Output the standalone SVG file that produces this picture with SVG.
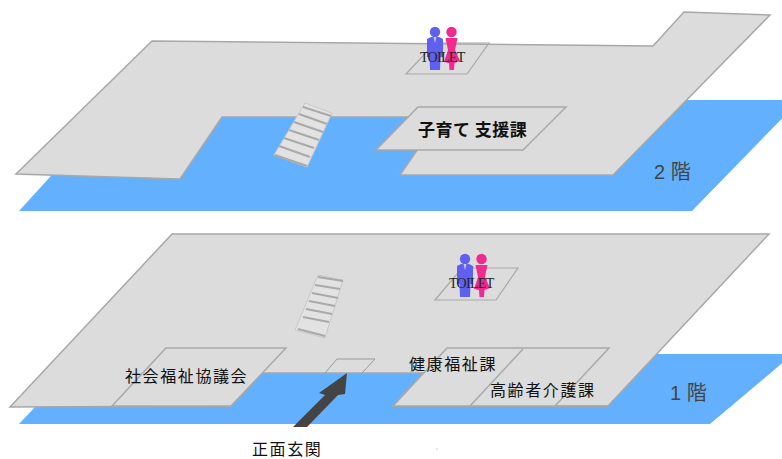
<svg xmlns="http://www.w3.org/2000/svg" width="782" height="459" viewBox="0 0 782 459">
<style>
.floor{fill:#dcdcdc;stroke:#a8a8a8;stroke-width:1.5}
.blue{fill:#63b0ff}
.room{fill:#dcdcdc;stroke:#a8a8a8;stroke-width:1.5}
.div{fill:none;stroke:#a8a8a8;stroke-width:1.5}
.wc{fill:none;stroke:#a8a8a8;stroke-width:1.2}
.jp{font-family:"Noto Sans CJK JP","Liberation Sans",sans-serif;font-size:16px;letter-spacing:1.6px;fill:#111}
.lvl{font-family:"Liberation Sans","Noto Sans CJK JP",sans-serif;font-size:20px;fill:#444}
.t{font-family:"Liberation Serif",serif;font-size:14px;fill:#222;letter-spacing:-0.7px}
.m{fill:#6060f0}.f{fill:#f02a90}
.step{stroke:#a9a9a9;stroke-width:2;fill:none}
.stair{fill:#e2e2e2;stroke:#c8c8c8;stroke-width:1}
</style>
<defs>
<g id="people">
<circle cx="0" cy="0" r="5.2" class="m"/>
<path class="m" d="M-8 7 L-4 5 L4 5 L8 7 L8 25 L5.5 25 L5 38 L-5 38 L-5.5 25 L-8 25Z"/>
<path d="M-1.5 5 L0 11 L1.5 5Z" fill="#c8c8f0"/>
<circle cx="16.5" cy="0" r="5.2" class="f"/>
<path class="f" d="M10.5 6 L22.5 6 L20 18 L25 29 L19.5 31 L19 38 L14.5 38 L14 31 L9 30 L13 18Z"/>
</g>
</defs>
<g id="floor-2">
<polygon class="blue" points="19,211 120,100 800,100 692,211"/>
<polygon class="floor" points="16,174 152,41 653,46 684,12 770,15 613,175 400,175 440,117 222,117 180,179"/>
</g>
<g id="floor-1">
<polygon class="blue" points="19,424 85,354 793,354 710,424"/>
<polygon class="floor" points="10,407 172,234 769,234 608,406 393,406 423,373 262,373 231,406"/>
</g>
<g id="toilet-2">
<polygon class="wc" points="406,74 435,43 489,43 467,74"/>
<use href="#people" x="435" y="32"/>
<text class="t" x="420" y="62">TOILET</text>
</g>
<g id="stairs-2">
<polygon class="stair" points="305,103 332,113 307,167 274,155"/>
<path class="step" d="M303 107 L331 116M299 114 L327 124M294 122 L323 132M289 130 L319 140M284 138 L314 148M279 146 L310 157M275 155 L307 166"/>
</g>
<g id="kosodate">
<polygon class="room" points="376,150 418,107 566,107 523,150"/>
<text class="jp" x="418" y="136" font-weight="700" style="font-size:17px;letter-spacing:.5px">子育て 支援課</text>
</g>
<text class="lvl" x="654" y="179" id="label-2f">2 階</text>
<g id="toilet-1">
<polygon class="wc" points="435,300 462,268 518,268 496,300"/>
<use href="#people" x="465" y="259"/>
<text class="t" x="449" y="288">TOILET</text>
</g>
<g id="stairs-1">
<polygon class="stair" points="318,275 343,280 325,338 295,330"/>
<path class="step" d="M318 277 L343 281M315 285 L340 289M312 293 L338 298M309 301 L335 306M306 309 L332 314M303 317 L329 322M298 329 L325 336"/>
</g>
<g id="shakyo">
<polygon class="room" points="112,406 166,348 286,348 231,406"/>
<text class="jp" x="125" y="382">社会福祉協議会</text>
</g>
<g id="entrance">
<path d="M325 373 L337 359 L375 359 L362 373" fill="none" stroke="#999" stroke-width="1"/>
</g>
<g id="kenko">
<polygon class="room" points="393,406 447,348 609,348 555,406"/>
<path class="div" d="M470 406 L523 349M555 406 L608 406"/>
<text class="jp" x="409" y="370">健康福祉課</text>
</g>
<g id="kaigo">
<text class="jp" x="490" y="396">高齢者介護課</text>
</g>
<g id="connectors">
<polygon points="293,427 307,427 338,395 345,394 347,373 319,393 325,395" fill="#444"/>
</g>
<text class="jp" x="252" y="455" id="label-entrance">正面玄関</text>
<text class="lvl" x="670" y="400" id="label-1f">1 階</text>
<circle cx="437" cy="449" r="0.6" fill="#999"/>
</svg>
